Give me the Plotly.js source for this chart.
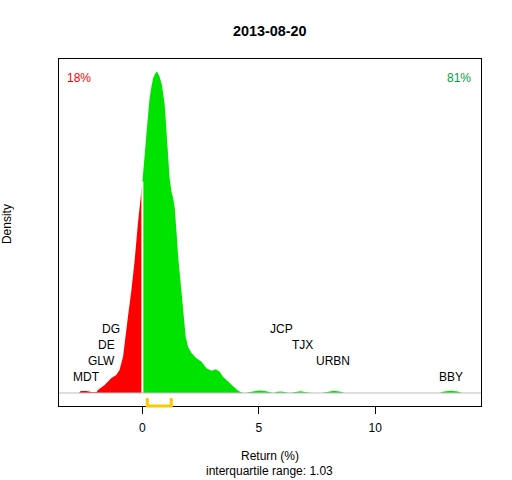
<!DOCTYPE html>
<html>
<head>
<meta charset="utf-8">
<script src="https://cdn.plot.ly/plotly-3.0.1.min.js"></script>
<style>html,body{margin:0;padding:0;background:#fff;}#chart{width:512px;height:480px;}</style>
</head>
<body>
<div id="chart"></div>
<script>
// Density of returns, split at zero
const redX = [-2.72,-2.65,-2.39,-2.14,-1.96,-1.91,-1.62,-1.33,-1.12,-0.98,-0.83,-0.73,-0.62,-0.47,-0.33,-0.19,-0.07,0];
const redY = [0,0.0034,0.0034,0.0012,0.0017,0.0051,0.0137,0.0257,0.0308,0.0394,0.0622,0.0908,0.1307,0.1764,0.2278,0.2912,0.3426,0.362];
const greenX = [0,0.03,0.10,0.17,0.24,0.31,0.39,0.46,0.56,0.63,0.74,0.84,0.96,1.03,1.10,1.17,1.25,1.32,1.39,1.46,1.49,1.53,1.60,1.70,1.79,1.86,1.96,2.11,2.32,2.54,2.75,2.97,3.15,3.32,3.46,3.68,3.89,4.11,4.30,4.44,4.61,4.83,5.04,5.26,5.47,5.64,5.77,5.99,6.20,6.37,6.55,6.81,7.10,7.28,7.71,7.92,8.22,8.52,8.69,12.74,12.95,13.25,13.55,13.72];
const greenY = [0.362,0.3734,0.4077,0.4420,0.4796,0.5053,0.5247,0.5391,0.5477,0.5504,0.5418,0.5276,0.4933,0.4505,0.3962,0.3678,0.3448,0.3340,0.3169,0.2878,0.2621,0.2364,0.2056,0.1542,0.1199,0.0964,0.0793,0.0685,0.0594,0.0536,0.0423,0.0382,0.0406,0.0365,0.0279,0.0194,0.0108,0.0039,0.0005,0,0.0017,0.0034,0.0043,0.0034,0.0009,0,0.002,0.0026,0.0009,0,0.0017,0.0029,0.0009,0,0,0.002,0.0038,0.002,0,0,0.0026,0.0039,0.0026,0];

// Labelled stocks: return and label level (fraction of density peak)
const stockNames = ['MDT','GLW','DE','DG','JCP','TJX','URBN','BBY'];
const stockReturns = [-2.39,-1.75,-1.54,-1.34,5.96,6.89,8.19,13.25];
const stockLevels = [0.05,0.10,0.15,0.20,0.20,0.15,0.10,0.05];

const tickVals = [0,5,10];
const tickText = ['0','5','10'];
const pctDown = '18%';
const pctUp = '81%';
const q1 = 0.21, q3 = 1.24;
const iqrText = 'interquartile range: 1.03';
const titleText = '2013-08-20';

const peak = Math.max(...greenY);
const font = 'Liberation Sans, Arial, sans-serif';

const traces = [
  {x: redX, y: redY, type: 'scatter', mode: 'lines', fill: 'tozeroy',
   line: {width: 0, color: '#FF0000'}, fillcolor: '#FF0000', hoverinfo: 'skip'},
  {x: greenX, y: greenY, type: 'scatter', mode: 'lines', fill: 'tozeroy',
   line: {width: 0, color: '#00E300'}, fillcolor: '#00E300', hoverinfo: 'skip'}
];

const ann = stockNames.map((n, i) => ({
  x: stockReturns[i], y: stockLevels[i] * peak, xref: 'x', yref: 'y',
  text: n, showarrow: false, xanchor: 'center', yanchor: 'middle',
  font: {family: font, size: 12, color: '#000'}
}));
ann.push(
  {x: 0.0474, y: 0.945, xref: 'paper', yref: 'paper', text: pctDown, showarrow: false,
   xanchor: 'center', yanchor: 'middle', font: {family: font, size: 12, color: '#FF0000'}},
  {x: 0.948, y: 0.945, xref: 'paper', yref: 'paper', text: pctUp, showarrow: false,
   xanchor: 'center', yanchor: 'middle', font: {family: font, size: 12, color: '#00A03C'}},
  {x: 0.499, y: -0.1455, xref: 'paper', yref: 'paper', text: 'Return (%)', showarrow: false,
   xanchor: 'center', yanchor: 'middle', font: {family: font, size: 12, color: '#000'}},
  {x: 0.499, y: -0.187, xref: 'paper', yref: 'paper', text: iqrText, showarrow: false,
   xanchor: 'center', yanchor: 'middle', font: {family: font, size: 12, color: '#000'}},
  {x: -0.123, y: 0.5245, xref: 'paper', yref: 'paper', text: 'Density', showarrow: false,
   textangle: -90, xanchor: 'center', yanchor: 'middle', font: {family: font, size: 12, color: '#000'}}
);

const layout = {
  width: 512, height: 480,
  margin: {l: 59, r: 31, t: 59, b: 74, pad: 0},
  paper_bgcolor: '#fff', plot_bgcolor: '#fff',
  showlegend: false,
  title: {text: '<b>' + titleText + '</b>', x: 0.527, xref: 'container', xanchor: 'center',
          y: 0.935, yref: 'container', yanchor: 'middle',
          font: {family: font, size: 14.4, color: '#000'}},
  xaxis: {range: [-3.58, 14.54], showgrid: false, zeroline: false,
          showline: true, mirror: true, linecolor: '#000', linewidth: 1,
          ticks: 'outside', ticklen: 7, tickcolor: '#000', tickwidth: 1,
          ticklabelstandoff: 4,
          tickvals: tickVals, ticktext: tickText,
          tickfont: {family: font, size: 12, color: '#000'}},
  yaxis: {range: [-0.0223, 0.572], showgrid: false, zeroline: false,
          showline: true, mirror: true, linecolor: '#000', linewidth: 1,
          ticks: '', showticklabels: false},
  annotations: ann,
  shapes: [
    {type: 'line', xref: 'x', yref: 'y', x0: 0, x1: 0, y0: 0, y1: redY[redY.length - 1],
     line: {color: '#FFFFFF', width: 2}, layer: 'above'},
    {type: 'line', xref: 'paper', yref: 'y', x0: 0, x1: 1, y0: 0, y1: 0,
     line: {color: '#BEBEBE', width: 1}, layer: 'above'},
    {type: 'path', xref: 'x', yref: 'paper',
     path: 'M ' + q1 + ' 0.023 L ' + q1 + ' 0 L ' + q3 + ' 0 L ' + q3 + ' 0.023',
     line: {color: '#FFC800', width: 3}, layer: 'above'}
  ]
};

Plotly.newPlot('chart', traces, layout, {displayModeBar: false, staticPlot: true});
</script>
</body>
</html>
